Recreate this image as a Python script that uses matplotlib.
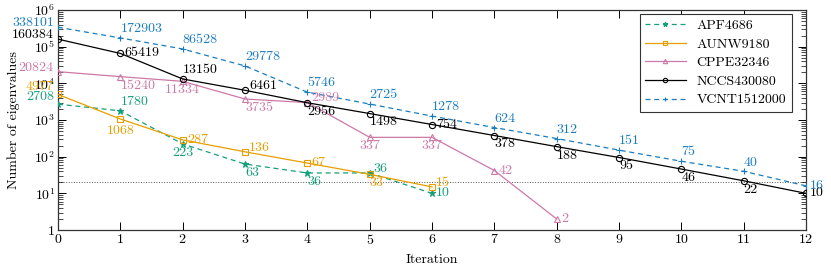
import math
import matplotlib
matplotlib.use("Agg")
import matplotlib.pyplot as plt
import matplotlib.ticker as mticker

plt.rcParams['font.family'] = ['cmr10', 'DejaVu Serif']
plt.rcParams['mathtext.fontset'] = 'cm'
plt.rcParams['axes.formatter.use_mathtext'] = True
plt.rcParams['axes.unicode_minus'] = False

# data
iterations = list(range(13))
apf = [2708, 1780, 223, 63, 36, 36, 10]
aunw = [4977, 1068, 287, 136, 67, 33, 15]
cppe = [20824, 15240, 11334, 3735, 2989, 337, 337, 42, 2]
nccs = [160384, 65419, 13150, 6461, 2956, 1498, 754, 378, 188, 95, 46, 22, 10]
vcnt = [338101, 172903, 86528, 29778, 5746, 2725, 1278, 624, 312, 151, 75, 40, 16]
names = ["APF4686", "AUNW9180", "CPPE32346", "NCCS430080", "VCNT1512000"]
threshold = 20

# where each value label goes relative to its point
apf_pos = ['luu', 'ar', 'b', 'br', 'br', 'ru', 'r']
aunw_pos = ['luu', 'bb', 'r', 'ru', 'r', 'br', 'ru']
cppe_pos = ['lu', 'br', 'b', 'br', 'ru', 'b', 'b', 'r', 'r']
nccs_pos = ['lu', 'r', 'ar', 'ru', 'br', 'br', 'r', 'br', 'br', 'br', 'br', 'br', 'r']
vcnt_pos = ['lu', 'ar', 'ar', 'ar', 'ar', 'ar', 'ar', 'ar', 'ar', 'ar', 'ar', 'ar', 'r']

anchors = {
    'l': (-3, 0, 'right', 'center'),
    'lu': (-3, 3, 'right', 'center'),
    'luu': (-3, 5.5, 'right', 'center'),
    'r': (3, 0, 'left', 'center'),
    'ru': (3, 3, 'left', 'center'),
    'ar': (0, 2, 'left', 'bottom'),
    'br': (0, -2, 'left', 'top'),
    'b': (0, -2, 'center', 'top'),
    'bb': (0, -4, 'center', 'top'),
}

c_green = '#14A07A'
c_orange = '#E69F00'
c_pink = '#CC79A7'
c_black = '#000000'
c_blue = '#1A7DC0'

series = [
    (apf, apf_pos, c_green, (0, (4, 3)), '*'),
    (aunw, aunw_pos, c_orange, '-', 's'),
    (cppe, cppe_pos, c_pink, '-', '^'),
    (nccs, nccs_pos, c_black, '-', 'o'),
    (vcnt, vcnt_pos, c_blue, (0, (4, 3)), '+'),
]

fs = 10

fig = plt.figure(figsize=(8.31, 2.70), dpi=100)
ax = fig.add_axes([0.0698, 0.148, 0.9002, 0.815])

ax.axhline(threshold, color='#555555', linestyle=':', linewidth=0.7, zorder=1)

for (vals, pos, col, ls, mk), name in zip(series, names):
    xs = iterations[:len(vals)]
    ax.plot(xs, vals, color=col, linestyle=ls, linewidth=0.9, marker=mk,
            markersize=4.5 if mk != '*' else 5, markerfacecolor='none' if mk not in ('*', '+') else col,
            markeredgewidth=0.8, label=name, zorder=3)
    for x, v, p in zip(xs, vals, pos):
        dx, dy, ha, va = anchors[p]
        ax.annotate(str(v), xy=(x, v), xytext=(dx, dy), textcoords='offset points',
                    ha=ha, va=va, fontsize=fs, color=col, zorder=4)

ax.set_yscale('log')
ax.set_xlim(0, 12)
ax.set_ylim(1, 1e6)
ax.set_xticks(iterations)
ax.yaxis.set_major_locator(mticker.LogLocator(base=10, numticks=10))
ax.yaxis.set_minor_locator(mticker.LogLocator(base=10, subs=range(2, 10), numticks=20))
ax.yaxis.set_minor_formatter(mticker.NullFormatter())
ax.yaxis.set_major_formatter(mticker.FuncFormatter(
    lambda v, _: '1' if v == 1 else r'$10^{%d}$' % round(math.log10(v))))

ax.tick_params(which='major', direction='in', length=5.5, width=0.7, top=True, right=True,
               labelsize=fs, pad=2)
ax.tick_params(which='minor', direction='in', length=3.5, width=0.5, top=True, right=True)
for s in ax.spines.values():
    s.set_linewidth(0.9)
    s.set_color('#333333')

ax.set_xlabel('Iteration', fontsize=fs, labelpad=5)
ax.set_ylabel('Number of eigenvalues', fontsize=fs, labelpad=10)

leg = ax.legend(loc='upper right', fontsize=fs, frameon=True, fancybox=False,
                edgecolor='#333333', framealpha=1, handlelength=2.9, borderpad=0.4,
                labelspacing=0.42, markerscale=0.7, borderaxespad=0,
                bbox_to_anchor=(0.981, 0.982))
leg.get_frame().set_linewidth(0.8)

fig.savefig('out.png', dpi=100)
